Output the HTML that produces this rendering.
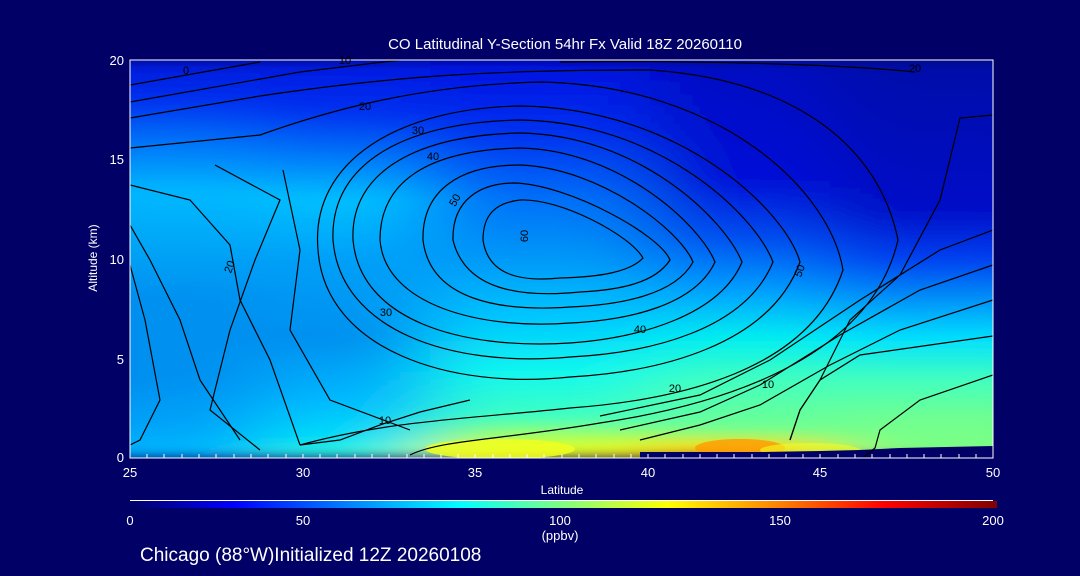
<!DOCTYPE html>
<html><head><meta charset="utf-8"><style>
html,body{margin:0;padding:0;background:#000066;}
svg{display:block;font-family:"Liberation Sans",sans-serif;}
</style></head><body>
<svg width="1080" height="576" viewBox="0 0 1080 576" xmlns="http://www.w3.org/2000/svg">
<defs>
<clipPath id="pc"><rect x="130" y="60" width="863" height="398"/></clipPath>
<filter id="bh" x="-20%" y="0" width="140%" height="100%"><feGaussianBlur stdDeviation="45 6"/></filter>
<linearGradient id="c1" x1="0" y1="60" x2="0" y2="458" gradientUnits="userSpaceOnUse">
<stop offset="0" stop-color="#0018d8"/><stop offset="0.1" stop-color="#0030f0"/><stop offset="0.2" stop-color="#0070f8"/><stop offset="0.33" stop-color="#00b8ff"/><stop offset="0.45" stop-color="#00a8f8"/><stop offset="0.6" stop-color="#0090f0"/><stop offset="0.8" stop-color="#0090f0"/><stop offset="0.9" stop-color="#00a0f8"/><stop offset="1" stop-color="#00b8ff"/></linearGradient>
<linearGradient id="c2" x1="0" y1="60" x2="0" y2="458" gradientUnits="userSpaceOnUse">
<stop offset="0" stop-color="#0018e0"/><stop offset="0.13" stop-color="#0030f0"/><stop offset="0.23" stop-color="#0070f8"/><stop offset="0.35" stop-color="#00c0ff"/><stop offset="0.5" stop-color="#00a0f8"/><stop offset="0.7" stop-color="#0090f0"/><stop offset="0.85" stop-color="#00b8ff"/><stop offset="0.95" stop-color="#00e0f8"/><stop offset="1" stop-color="#40ffd0"/></linearGradient>
<linearGradient id="c3" x1="0" y1="60" x2="0" y2="458" gradientUnits="userSpaceOnUse">
<stop offset="0" stop-color="#0010e0"/><stop offset="0.18" stop-color="#0030f0"/><stop offset="0.35" stop-color="#0070f8"/><stop offset="0.5" stop-color="#0098f8"/><stop offset="0.65" stop-color="#00c8ff"/><stop offset="0.78" stop-color="#10f8f0"/><stop offset="0.9" stop-color="#40ffc0"/><stop offset="0.95" stop-color="#b0ff50"/><stop offset="1" stop-color="#ffff00"/></linearGradient>
<linearGradient id="c4" x1="0" y1="60" x2="0" y2="458" gradientUnits="userSpaceOnUse">
<stop offset="0" stop-color="#0008c0"/><stop offset="0.3" stop-color="#0010d8"/><stop offset="0.45" stop-color="#0050f0"/><stop offset="0.58" stop-color="#00a0ff"/><stop offset="0.7" stop-color="#00f0f0"/><stop offset="0.8" stop-color="#40ffc0"/><stop offset="0.93" stop-color="#70ff90"/><stop offset="0.97" stop-color="#ffe000"/><stop offset="1" stop-color="#ff9000"/></linearGradient>
<linearGradient id="c5" x1="0" y1="60" x2="0" y2="458" gradientUnits="userSpaceOnUse">
<stop offset="0" stop-color="#0008a8"/><stop offset="0.38" stop-color="#0010c8"/><stop offset="0.5" stop-color="#0040f0"/><stop offset="0.6" stop-color="#0090f8"/><stop offset="0.7" stop-color="#00e0ff"/><stop offset="0.8" stop-color="#40ffc0"/><stop offset="0.9" stop-color="#70ff90"/><stop offset="1" stop-color="#80ff80"/></linearGradient>
<linearGradient id="cb" x1="0" x2="1" y1="0" y2="0">
<stop offset="0" stop-color="#000066"/><stop offset="0.12" stop-color="#0000ff"/><stop offset="0.25" stop-color="#0080ff"/><stop offset="0.38" stop-color="#00ffff"/><stop offset="0.5" stop-color="#80ff80"/><stop offset="0.62" stop-color="#ffff00"/><stop offset="0.75" stop-color="#ff8000"/><stop offset="0.87" stop-color="#ff0000"/><stop offset="1" stop-color="#800000"/></linearGradient>
</defs>
<g clip-path="url(#pc)">
<g filter="url(#bh)">
<rect x="40" y="60" width="220" height="398" fill="url(#c1)"/>
<rect x="260" y="60" width="170" height="398" fill="url(#c2)"/>
<rect x="430" y="60" width="220" height="398" fill="url(#c3)"/>
<rect x="650" y="60" width="180" height="398" fill="url(#c4)"/>
<rect x="830" y="60" width="260" height="398" fill="url(#c5)"/>
</g>
<ellipse cx="500" cy="449" rx="75" ry="10" fill="#f0ff20" opacity="0.85"/>
<ellipse cx="740" cy="448" rx="45" ry="9" fill="#ff9a00" opacity="0.8"/>
<ellipse cx="810" cy="450" rx="50" ry="7" fill="#f0ff20" opacity="0.6"/>
<polygon points="640,458 640,452 760,452 820,451 860,450 900,448 993,446 993,458" fill="#000066"/>
<g fill="none" stroke="#000" stroke-width="1.2">
<path d="M483,240 C483,215 495,203 520,200 C560,198 630,235 643,258 C630,272 600,277 560,278 C520,282 488,275 483,240Z"/>
<path d="M453,240 C452,200 480,183 515,183 C570,185 660,235 670,260 C655,283 620,290 580,292 C520,298 465,290 453,240Z"/>
<path d="M423,240 C422,190 460,165 520,165 C600,168 680,230 693,262 C675,295 620,305 570,307 C500,312 430,300 423,240Z"/>
<path d="M380,240 C380,180 430,150 520,148 C620,150 700,225 715,262 C695,305 630,320 570,323 C480,330 385,305 380,240Z"/>
<path d="M353,240 C350,170 420,135 520,133 C640,135 725,220 742,262 C720,315 640,338 570,343 C460,350 360,320 353,240Z"/>
<path d="M333,240 C330,160 410,122 520,120 C660,122 755,215 773,262 C745,330 650,353 570,357 C450,368 340,330 333,240Z"/>
<path d="M318,250 C310,160 400,108 520,106 C680,108 785,210 800,262 C770,345 660,372 570,377 C450,390 325,350 318,250Z"/>
<path d="M130,148 L260,135 C330,110 420,85 540,82 C720,85 830,190 843,270 C810,370 680,400 570,408 C480,418 390,420 300,445"/>
<path d="M130,118 L260,96 C400,75 500,70 650,70 C800,80 880,150 898,240 C870,360 720,405 600,423 C500,440 440,440 410,455"/>
<path d="M130,102 L300,72 L400,60"/>
<path d="M130,85 L260,62"/>
<path d="M560,62 C700,60 850,65 915,72"/>
<path d="M993,115 L960,118 L940,200 L900,275 L850,320 L820,380 L800,410 L790,440"/>
<path d="M130,185 L190,200 L230,245 L240,300 L270,360 L300,445"/>
<path d="M215,165 L280,200 L255,260 L230,330 L210,410 L260,450"/>
<path d="M130,225 L150,260 L180,320 L200,380 L240,440"/>
<path d="M130,265 L145,320 L160,400 L140,440 L130,445"/>
<path d="M283,170 L300,250 L290,330 L330,400 L410,430"/>
<path d="M300,445 L340,440 L380,425 L420,412 L470,400"/>
<path d="M860,460 L875,448 L880,430 L920,400 L993,375"/>
<path d="M790,440 L800,410 L820,380 L860,355 L993,336"/>
<path d="M640,440 L700,425 L760,405 L830,365 L900,330 L993,300"/>
<path d="M620,430 L700,412 L760,385 L840,335 L920,290 L993,265"/>
<path d="M600,416 L700,395 L770,360 L860,300 L940,250 L993,230"/>
</g>
</g>
<rect x="130" y="60" width="863" height="398" fill="none" stroke="#fff" stroke-width="1"/>
<g font-size="11" fill="#000" text-anchor="middle">
<text x="186" y="74">0</text><text x="345" y="64">10</text><text x="365" y="110">20</text><text x="418" y="134">30</text><text x="433" y="160">40</text>
<text x="458" y="202" transform="rotate(-60 458 202)">50</text><text x="528" y="236" transform="rotate(-90 528 236)">60</text>
<text x="640" y="333">40</text><text x="675" y="392">20</text><text x="768" y="388">10</text><text x="803" y="272" transform="rotate(-70 803 272)">50</text>
<text x="385" y="424">10</text><text x="386" y="316">30</text><text x="233" y="268" transform="rotate(-70 233 268)">20</text><text x="915" y="72">20</text>
</g>
<g fill="#fff" font-size="13">
<g text-anchor="end"><text x="124" y="65">20</text><text x="124" y="164">15</text><text x="124" y="264">10</text><text x="124" y="364">5</text><text x="124" y="462">0</text></g>
<g text-anchor="middle"><text x="130" y="477">25</text><text x="303" y="477">30</text><text x="475" y="477">35</text><text x="648" y="477">40</text><text x="820" y="477">45</text><text x="993" y="477">50</text>
<text x="562" y="494" font-size="12">Latitude</text>
<text x="565" y="49" font-size="15">CO Latitudinal Y-Section 54hr  Fx Valid 18Z 20260110</text>
<text x="130" y="525">0</text><text x="303" y="525">50</text><text x="560" y="525">100</text><text x="780" y="525">150</text><text x="993" y="525">200</text>
<text x="560" y="540">(ppbv)</text></g>
<text x="97" y="258" font-size="12" text-anchor="middle" transform="rotate(-90 97 258)">Altitude (km)</text>
<text x="140" y="561" font-size="19">Chicago (88°W)Initialized 12Z 20260108</text>
</g>
<g stroke="#fff" stroke-width="1">
<path d="M147,458v-4M164,458v-4M182,458v-4M199,458v-4M216,458v-4M234,458v-4M251,458v-4M268,458v-4M286,458v-4M303,458v-4M320,458v-4M337,458v-4M355,458v-4M372,458v-4M389,458v-4M407,458v-4M424,458v-4M441,458v-4M458,458v-4M475,458v-4M493,458v-4M510,458v-4M527,458v-4M544,458v-4M562,458v-4M579,458v-4M596,458v-4M614,458v-4M631,458v-4M648,458v-4M665,458v-4M683,458v-4M700,458v-4M717,458v-4M734,458v-4M752,458v-4M769,458v-4M786,458v-4M803,458v-4M820,458v-4M838,458v-4M855,458v-4M872,458v-4M890,458v-4M907,458v-4M924,458v-4M941,458v-4M959,458v-4M976,458v-4"/>
</g>
<line x1="130" y1="500.5" x2="993" y2="500.5" stroke="#fff" stroke-width="1"/>
<rect x="130" y="501" width="867" height="7" fill="url(#cb)"/>
</svg>
</body></html>
